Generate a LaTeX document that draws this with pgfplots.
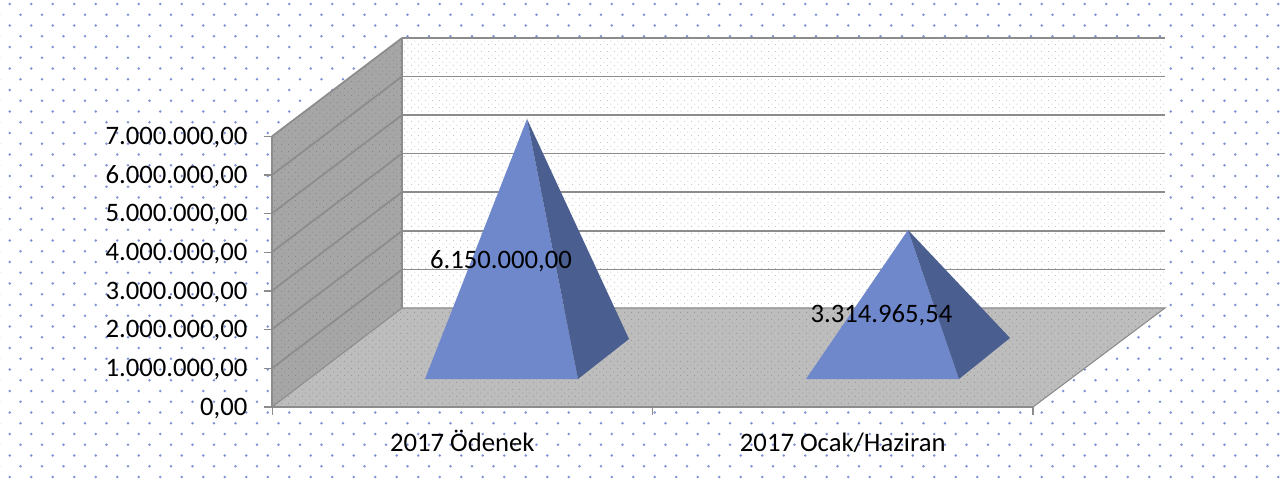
\documentclass[border=0pt]{standalone}
\usepackage{fontspec}
\setmainfont{Carlito}
\usepackage{pgfplots}
\pgfplotsset{compat=1.18}
\usetikzlibrary{patterns}
\definecolor{pyrlight}{RGB}{111,136,204}
\definecolor{pyrdark}{RGB}{74,94,143}
\definecolor{gridgray}{RGB}{140,140,140}
\definecolor{sidewall}{RGB}{166,166,166}
\definecolor{floorgray}{RGB}{189,189,189}
\definecolor{bgdot}{RGB}{125,145,212}
% page background: staggered blue dots, 21.5px apart
\pgfdeclarepatternformonly{bgdots}{\pgfqpoint{2pt}{2pt}}{\pgfqpoint{18.125pt}{18.125pt}}{\pgfqpoint{16.125pt}{16.125pt}}{
  \pgfpathcircle{\pgfqpoint{7.3pt}{5.25pt}}{1pt}
  \pgfpathcircle{\pgfqpoint{15.36pt}{13.31pt}}{1pt}
  \pgfusepath{fill}}
% fine texture on the walls and floor
\pgfdeclarepatternformonly{finedots}{\pgfqpoint{0pt}{0pt}}{\pgfqpoint{5.4pt}{5.4pt}}{\pgfqpoint{5.4pt}{5.4pt}}{
  \pgfpathcircle{\pgfqpoint{1.35pt}{1.35pt}}{0.42pt}
  \pgfpathcircle{\pgfqpoint{4.05pt}{4.05pt}}{0.42pt}
  \pgfusepath{fill}}
\pgfplotsset{
  gridl/.style={draw=gridgray, line width=1.3pt, forget plot},
}
\begin{document}
\begin{tikzpicture}
% scene in reference pixels (y down), the 3D chart is a projection
\begin{axis}[
  at={(0pt,0pt)}, anchor=south west,
  scale only axis, width=965.25pt, height=363pt,
  xmin=0, xmax=1287, ymin=0, ymax=484, y dir=reverse,
  hide axis, clip=false,
]
  \addplot[draw=none, fill=white, postaction={pattern=bgdots, pattern color=bgdot}]
    coordinates {(0,0)(1287,0)(1287,484)(0,484)} --cycle;
  % back wall
  \addplot[draw=none, fill=white, postaction={pattern=finedots, pattern color=black!24}]
    coordinates {(402,38)(1165,38)(1165,308)(402,308)} --cycle;
  % side wall
  \addplot[draw=none, fill=sidewall, postaction={pattern=finedots, pattern color=black!48}]
    coordinates {(272,136)(402,38)(402,308)(272,407)} --cycle;
  % floor
  \addplot[draw=none, fill=floorgray, postaction={pattern=finedots, pattern color=black!45}]
    coordinates {(272,407)(402,308)(1165,308)(1033,407)} --cycle;
  % grid on back wall
  \addplot[gridl] coordinates {(402,38)(1165,38)};
  \addplot[gridl] coordinates {(402,76.5)(1165,76.5)};
  \addplot[gridl] coordinates {(402,115)(1165,115)};
  \addplot[gridl] coordinates {(402,153.5)(1165,153.5)};
  \addplot[gridl] coordinates {(402,192)(1165,192)};
  \addplot[gridl] coordinates {(402,231)(1165,231)};
  \addplot[gridl] coordinates {(402,269.5)(1165,269.5)};
  % grid on side wall
  \addplot[gridl] coordinates {(272,136.3)(402,38)};
  \addplot[gridl] coordinates {(272,175)(402,76.5)};
  \addplot[gridl] coordinates {(272,213.3)(402,115)};
  \addplot[gridl] coordinates {(272,252)(402,153.5)};
  \addplot[gridl] coordinates {(272,290.7)(402,192)};
  \addplot[gridl] coordinates {(272,329.3)(402,231)};
  \addplot[gridl] coordinates {(272,368.3)(402,269.5)};
  \addplot[gridl, line width=0.8pt] coordinates {(402,38)(402,308)};
  \addplot[gridl, line width=0.8pt] coordinates {(272,407)(402,308)(1165,308)(1033,407)};
  % category ticks under the front edge
  \addplot[gridl, line width=1.1pt] coordinates {(272.5,407)(272.5,415)};
  \addplot[gridl, line width=1.1pt] coordinates {(652.5,407)(652.5,415)};
  \addplot[gridl, line width=1.1pt] coordinates {(1033,407)(1033,415)};
  % pyramid 2017 Odenek
  \addplot[draw=none, fill=pyrlight] coordinates {(425,379)(578,379)(527,119)} --cycle;
  \addplot[draw=none, fill=pyrdark] coordinates {(578,379)(629,339)(527,119)} --cycle;
  % pyramid 2017 Ocak/Haziran
  \addplot[draw=none, fill=pyrlight] coordinates {(806,379)(959,379)(908,230)} --cycle;
  \addplot[draw=none, fill=pyrdark] coordinates {(959,379)(1010,338)(908,230)} --cycle;
  \node[font=\fontsize{20}{24}\selectfont, inner sep=0pt] at (axis cs:501,261.5) {6.150.000,00};
  \node[font=\fontsize{20}{24}\selectfont, inner sep=0pt] at (axis cs:881.5,315.5) {3.314.965,54};
\end{axis}
% front axes with the value scale and categories
\begin{axis}[
  at={(204pt,57.75pt)}, anchor=south west,
  scale only axis, width=570.75pt, height=203pt,
  xmin=-0.5, xmax=1.5, ymin=0, ymax=7000000,
  axis x line*=bottom, axis y line*=left,
  axis line style={draw=gridgray, line width=1.6pt, -},
  xtick={0,1}, xticklabels={2017 Ödenek, 2017 Ocak/Haziran},
  x tick style={draw=none},
  major tick length=6pt,
  ytick={0,1000000,2000000,3000000,4000000,5000000,6000000,7000000},
  y tick style={draw=gridgray, line width=1.1pt},
  tick align=outside,
  scaled y ticks=false,
  yticklabel style={
    xshift=-9pt, yshift=-1pt,
    /pgf/number format/fixed, /pgf/number format/fixed zerofill,
    /pgf/number format/precision=2,
    /pgf/number format/1000 sep={.}, /pgf/number format/dec sep={,},
    /pgf/number format/assume math mode=true,
  },
  tick label style={font=\fontsize{20}{24}\selectfont},
  xticklabel style={anchor=base, yshift=-27.5pt},
]
\end{axis}
\end{tikzpicture}
\end{document}
